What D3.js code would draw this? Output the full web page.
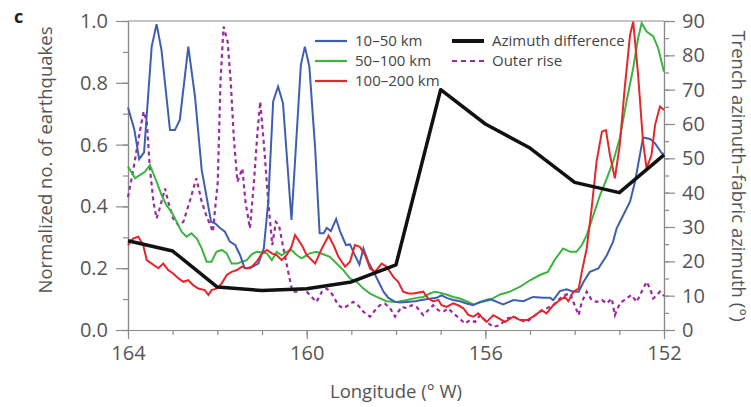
<!DOCTYPE html>
<html><head><meta charset="utf-8">
<script src="https://cdn.jsdelivr.net/npm/d3@7"></script>
<style>
body{margin:0;background:#fff;}
svg{display:block;font-family:"Open Sans",sans-serif;}
</style></head>
<body><svg id="c" width="751" height="407"></svg>
<script>
// ---- data ----
const xMajorTicks = [164, 160, 156, 152];
const xMinorTicks = [164,163,162,161,160,159,158,157,156,155,154,153,152];
const yLeftTicks = [0, 0.2, 0.4, 0.6, 0.8, 1.0];
const yLeftMinor = [0,0.1,0.2,0.3,0.4,0.5,0.6,0.7,0.8,0.9,1.0];
const yRightTicks = [0,10,20,30,40,50,60,70,80,90];
const yRightMinor = [0,5,10,15,20,25,30,35,40,45,50,55,60,65,70,75,80,85,90];

const blueLon = [164.0,163.86,163.75,163.64,163.47,163.36,163.25,163.06,162.95,162.84,162.65,162.5,162.35,162.14,162.05,161.94,161.83,161.72,161.6,161.49,161.39,161.27,161.08,160.96,160.86,160.75,160.64,160.53,160.34,160.13,160.04,159.94,159.81,159.71,159.62,159.55,159.46,159.34,159.25,159.12,159.03,158.94,158.82,158.73,158.62,158.5,158.39,158.28,158.17,158.02,157.91,157.76,157.57,157.43,157.28,157.09,156.98,156.87,156.72,156.57,156.42,156.27,156.12,155.9,155.6,155.37,155.15,154.93,154.7,154.55,154.48,154.33,154.18,154.03,153.91,153.8,153.66,153.47,153.28,153.14,153.06,152.91,152.76,152.65,152.54,152.47,152.31,152.2,152.05,152.0];
const blueVal = [0.72,0.65,0.553,0.575,0.917,0.99,0.906,0.647,0.647,0.68,0.917,0.755,0.518,0.35,0.345,0.33,0.318,0.286,0.275,0.242,0.2,0.2,0.215,0.264,0.415,0.74,0.788,0.734,0.356,0.858,0.917,0.853,0.588,0.313,0.313,0.33,0.32,0.359,0.318,0.275,0.277,0.248,0.212,0.264,0.221,0.188,0.156,0.124,0.104,0.091,0.089,0.091,0.093,0.097,0.1,0.104,0.113,0.104,0.097,0.093,0.086,0.08,0.091,0.1,0.083,0.097,0.093,0.107,0.104,0.104,0.097,0.126,0.132,0.124,0.124,0.156,0.188,0.199,0.242,0.286,0.329,0.372,0.415,0.48,0.566,0.623,0.618,0.604,0.572,0.57];

const greenLon = [164.0,163.84,163.73,163.62,163.51,163.36,163.25,163.14,163.03,162.91,162.8,162.69,162.58,162.46,162.35,162.24,162.13,162.02,161.9,161.79,161.68,161.56,161.45,161.34,161.23,161.12,161.0,160.89,160.78,160.67,160.56,160.45,160.34,160.22,160.11,159.93,159.78,159.63,159.48,159.33,159.18,159.03,158.88,158.73,158.58,158.43,158.21,157.98,157.76,157.54,157.39,157.24,157.13,157.02,156.87,156.72,156.57,156.42,156.27,156.12,155.9,155.67,155.45,155.22,155.0,154.78,154.6,154.45,154.26,154.1,153.96,153.84,153.73,153.58,153.43,153.28,153.14,152.99,152.84,152.69,152.58,152.5,152.39,152.24,152.13,152.0];
const greenVal = [0.529,0.491,0.502,0.512,0.534,0.48,0.437,0.404,0.383,0.35,0.318,0.302,0.313,0.296,0.264,0.221,0.221,0.253,0.259,0.248,0.215,0.215,0.221,0.226,0.245,0.253,0.251,0.248,0.226,0.253,0.242,0.253,0.259,0.242,0.232,0.248,0.253,0.245,0.237,0.215,0.194,0.167,0.156,0.134,0.118,0.107,0.093,0.091,0.097,0.104,0.107,0.118,0.124,0.121,0.115,0.107,0.102,0.093,0.083,0.089,0.097,0.115,0.124,0.14,0.161,0.178,0.188,0.226,0.264,0.253,0.253,0.275,0.307,0.372,0.437,0.491,0.545,0.62,0.739,0.847,0.944,0.993,0.966,0.95,0.912,0.836];

const redLon = [164.0,163.89,163.77,163.66,163.58,163.47,163.32,163.21,163.1,162.99,162.87,162.76,162.65,162.54,162.43,162.28,162.2,162.13,162.02,161.9,161.79,161.68,161.56,161.45,161.34,161.23,161.12,161.0,160.89,160.78,160.67,160.56,160.45,160.34,160.26,160.11,160.0,159.81,159.66,159.51,159.4,159.29,159.14,159.03,158.92,158.81,158.69,158.58,158.47,158.32,158.21,158.06,157.95,157.84,157.72,157.61,157.39,157.28,157.17,157.05,156.98,156.87,156.72,156.61,156.49,156.38,156.27,156.16,156.05,155.97,155.82,155.56,155.37,155.22,155.07,154.93,154.74,154.63,154.48,154.33,154.22,154.14,154.03,153.91,153.84,153.73,153.62,153.51,153.39,153.3,153.21,153.1,152.99,152.88,152.76,152.69,152.58,152.47,152.39,152.28,152.2,152.09,152.0];
const redVal = [0.275,0.296,0.302,0.275,0.226,0.215,0.2,0.215,0.194,0.183,0.167,0.156,0.161,0.145,0.134,0.129,0.113,0.129,0.134,0.151,0.178,0.188,0.194,0.205,0.199,0.205,0.221,0.248,0.259,0.248,0.242,0.226,0.242,0.269,0.307,0.275,0.242,0.215,0.264,0.305,0.275,0.237,0.205,0.221,0.275,0.269,0.242,0.199,0.188,0.215,0.205,0.172,0.156,0.124,0.118,0.118,0.124,0.102,0.093,0.097,0.08,0.075,0.086,0.08,0.07,0.049,0.043,0.054,0.037,0.026,0.048,0.026,0.043,0.032,0.032,0.043,0.064,0.054,0.08,0.097,0.107,0.093,0.124,0.134,0.188,0.264,0.394,0.545,0.642,0.647,0.566,0.491,0.599,0.782,0.955,0.998,0.826,0.61,0.523,0.566,0.664,0.723,0.712];

const outerLon = [164.0,163.88,163.75,163.65,163.58,163.51,163.43,163.36,163.29,163.17,163.1,162.99,162.87,162.76,162.62,162.47,162.35,162.25,162.1,161.99,161.93,161.86,161.77,161.7,161.63,161.55,161.44,161.37,161.27,161.18,161.1,161.04,160.95,160.86,160.77,160.69,160.62,160.52,160.43,160.32,160.2,160.09,160.0,159.89,159.78,159.66,159.55,159.44,159.29,159.18,159.07,158.96,158.85,158.73,158.58,158.47,158.36,158.25,158.13,158.02,157.95,157.87,157.76,157.65,157.54,157.39,157.28,157.17,157.05,156.94,156.83,156.72,156.57,156.46,156.34,156.23,156.12,155.97,155.82,155.67,155.52,155.37,155.22,155.07,154.93,154.78,154.63,154.48,154.33,154.22,154.1,154.0,153.91,153.84,153.73,153.62,153.51,153.39,153.28,153.17,153.1,152.99,152.84,152.73,152.61,152.5,152.39,152.31,152.24,152.16,152.09,152.0];
const outerVal = [0.43,0.52,0.63,0.707,0.674,0.523,0.415,0.361,0.394,0.458,0.415,0.361,0.339,0.35,0.415,0.491,0.415,0.372,0.318,0.48,0.804,0.982,0.934,0.804,0.62,0.48,0.523,0.415,0.329,0.48,0.642,0.739,0.588,0.415,0.275,0.35,0.339,0.264,0.2,0.124,0.124,0.134,0.124,0.107,0.091,0.124,0.134,0.118,0.08,0.07,0.08,0.091,0.08,0.059,0.043,0.064,0.08,0.086,0.07,0.043,0.059,0.075,0.07,0.08,0.075,0.048,0.064,0.08,0.064,0.059,0.07,0.054,0.037,0.021,0.032,0.026,0.048,0.026,0.01,0.016,0.037,0.043,0.032,0.026,0.043,0.059,0.07,0.08,0.102,0.113,0.118,0.08,0.048,0.091,0.124,0.097,0.091,0.097,0.086,0.102,0.048,0.086,0.102,0.113,0.091,0.124,0.156,0.134,0.102,0.113,0.124,0.11];

const azLon = [164,163,162,161,160,159,158,157,156,155,154,153,152];
const azVal = [26,23,12.5,11.5,12,14,19,70,60,53,43,40,51];

const seriesNames = ["10\u201350 km","50\u2013100 km","100\u2013200 km","Azimuth difference","Outer rise"];
const seriesColors = ["#3f5fae","#3db43f","#e5262b","#111111","#9a2c9f"];

// ---- layout ----
const L = 128, R = 664, T = 21, B = 330;
const svg = d3.select("#c");
const axisColor = "#8a8a8a", textColor = "#555";

const x = d3.scaleLinear().domain([164,152]).range([L,R]);
const y = d3.scaleLinear().domain([0,1]).range([B,T]);
const y2 = d3.scaleLinear().domain([0,90]).range([B,T]);

// top border
svg.append("line").attr("x1",L).attr("x2",R).attr("y1",T).attr("y2",T)
  .attr("stroke",axisColor).attr("stroke-width",1.2);

function styleAxis(g){
  g.selectAll("path").attr("stroke",axisColor).attr("stroke-width",1.2);
  g.selectAll("line").attr("stroke",axisColor).attr("stroke-width",1.2);
  g.selectAll("text").attr("fill",textColor).style("font-size","20px").style("font-family","'Open Sans',sans-serif");
}

// left axis
svg.append("g").attr("transform",`translate(${L},0)`)
  .call(d3.axisLeft(y).tickValues(yLeftMinor).tickSize(5).tickFormat("").tickSizeOuter(0)).call(styleAxis);
svg.append("g").attr("transform",`translate(${L},0)`)
  .call(d3.axisLeft(y).tickValues(yLeftTicks).tickSize(12).tickPadding(8).tickFormat(d3.format(".1f")).tickSizeOuter(0)).call(styleAxis);
// right axis
svg.append("g").attr("transform",`translate(${R},0)`)
  .call(d3.axisRight(y2).tickValues(yRightMinor).tickSize(5).tickFormat("").tickSizeOuter(0)).call(styleAxis);
svg.append("g").attr("transform",`translate(${R},0)`)
  .call(d3.axisRight(y2).tickValues(yRightTicks).tickSize(11).tickPadding(7).tickFormat(d3.format("d")).tickSizeOuter(0)).call(styleAxis);
// bottom axis
svg.append("g").attr("transform",`translate(0,${B})`)
  .call(d3.axisBottom(x).tickValues(xMinorTicks).tickSize(5).tickFormat("").tickSizeOuter(0)).call(styleAxis);
svg.append("g").attr("transform",`translate(0,${B})`)
  .call(d3.axisBottom(x).tickValues(xMajorTicks).tickSize(9).tickPadding(7).tickFormat(d3.format("d")).tickSizeOuter(0)).call(styleAxis);

// titles
svg.append("text").attr("transform",`translate(52,160) rotate(-90)`).attr("text-anchor","middle")
  .attr("fill",textColor).style("font-size","18.5px").text("Normalized no. of earthquakes");
svg.append("text").attr("transform",`translate(732,176) rotate(90)`).attr("text-anchor","middle")
  .attr("fill",textColor).style("font-size","18.5px").text("Trench azimuth\u2013fabric azimuth (\u00b0)");
svg.append("text").attr("x",(L+R)/2).attr("y",398).attr("text-anchor","middle")
  .attr("fill",textColor).style("font-size","18.5px").text("Longitude (\u00b0 W)");
svg.append("text").attr("x",14).attr("y",23).attr("fill","#222").style("font-size","18px").style("font-weight","bold").text("c");

// lines
const line = d3.line().x(d=>x(d[0])).y(d=>y(d[1]));
const line2 = d3.line().x(d=>x(d[0])).y(d=>y2(d[1]));
const g = svg.append("g");
g.append("path").datum(d3.zip(outerLon,outerVal)).attr("d",line).attr("fill","none")
  .attr("stroke",seriesColors[4]).attr("stroke-width",2.2).attr("stroke-dasharray","4,3.5");
g.append("path").datum(d3.zip(greenLon,greenVal)).attr("d",line).attr("fill","none")
  .attr("stroke",seriesColors[1]).attr("stroke-width",2);
g.append("path").datum(d3.zip(blueLon,blueVal)).attr("d",line).attr("fill","none")
  .attr("stroke",seriesColors[0]).attr("stroke-width",2);
g.append("path").datum(d3.zip(redLon,redVal)).attr("d",line).attr("fill","none")
  .attr("stroke",seriesColors[2]).attr("stroke-width",2);
g.append("path").datum(d3.zip(azLon,azVal)).attr("d",line2).attr("fill","none")
  .attr("stroke",seriesColors[3]).attr("stroke-width",3.5).attr("stroke-linejoin","round");

// legend
const legPos = [[315,41],[315,61],[315,81],[452,41],[452,61]];
seriesNames.forEach((name,i)=>{
  const [lx,ly] = legPos[i];
  const ln = svg.append("line").attr("x1",lx).attr("x2",lx+32).attr("y1",ly).attr("y2",ly)
    .attr("stroke",seriesColors[i]).attr("stroke-width", i===3?4:2.2);
  if(i===4) ln.attr("stroke-dasharray","5,4");
  svg.append("text").attr("x",lx+40).attr("y",ly).attr("dy","0.35em")
    .attr("fill","#444").style("font-size","15px").text(name);
});
</script></body></html>
